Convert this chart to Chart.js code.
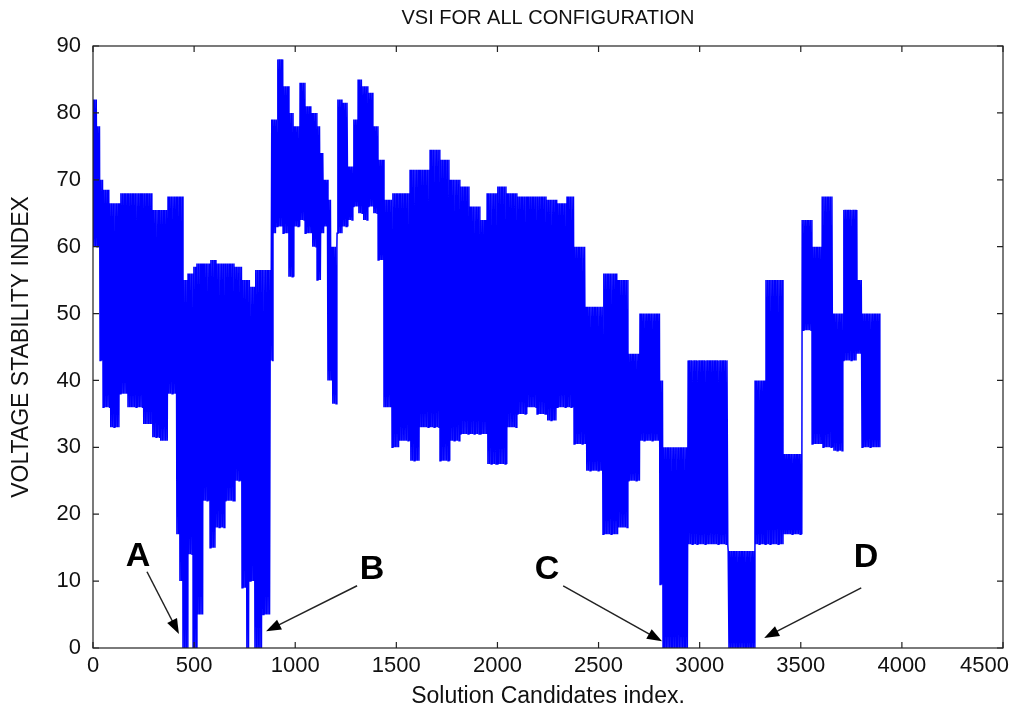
<!DOCTYPE html>
<html>
<head>
<meta charset="utf-8">
<script src="https://cdn.jsdelivr.net/npm/chart.js@4.4.0/dist/chart.umd.min.js"></script>
<style>
  html, body { margin: 0; padding: 0; background: #fff; }
  #wrap { width: 1011px; height: 710px; }
</style>
</head>
<body>
<div id="wrap"><canvas id="vsiChart" width="1011" height="710"></canvas></div>
<script>
// VSI trace: start index, upper and lower envelope
const segStart = [0, 20, 35, 50, 84, 134, 173, 247, 292, 331, 371, 411, 430, 445, 470, 495, 514, 544, 579, 608,
                  653, 702, 737, 757, 777, 801, 841, 880,
                  890, 910, 940, 969, 994, 1024, 1049, 1083, 1108, 1128, 1143, 1162, 1182, 1207, 1232, 1261, 1286,
                  1311, 1335, 1360, 1385, 1410,
                  1439, 1479, 1518, 1568, 1617, 1667, 1716, 1766, 1815, 1865, 1914, 1949, 1998, 2048, 2097, 2147,
                  2196, 2245, 2295, 2344,
                  2379, 2438, 2522, 2597, 2646, 2705, 2804, 2819, 2943, 3141, 3274, 3324, 3413, 3507, 3556, 3606,
                  3660, 3709, 3779, 3803];
const segHigh  = [82, 78, 70, 68.5, 66.5, 68, 68, 68, 65.5, 65.5, 67.5, 67.5, 67.5, 55, 56, 57, 57.5, 57.5, 58, 57.5,
                  57.5, 57, 55, 55, 54, 56.5, 56.5, 79,
                  79, 88, 84, 80, 78, 84.5, 81, 80, 78, 74, 70, 67, 60, 82, 81.5, 72, 79,
                  85, 84, 83, 78, 73,
                  67, 68, 68, 71.5, 71.5, 74.5, 73, 70, 69, 66, 64, 68, 69, 68, 67.5, 67.5,
                  67.5, 67, 66.5, 67.5,
                  60, 51, 56, 55, 44, 50, 40, 30, 43, 14.5, 40, 55, 29, 64, 60, 67.5,
                  50, 65.5, 55, 50];
const segLow   = [60, 60, 43, 36, 33, 38, 36, 33.5, 31.5, 31, 38, 17, 10, 0, 14, 0, 5, 22, 15, 18,
                  22, 25, 9, 0, 10, 0, 5, 43,
                  62, 63, 62, 55.5, 63, 64, 62, 60, 55, 62, 63, 40, 36.5, 62, 63, 64, 66,
                  65, 64, 66, 65, 58,
                  36, 30, 31, 28, 33, 33, 28, 31, 32, 32, 32, 27.5, 27.5, 33, 35, 36,
                  35, 34, 36, 36,
                  30.5, 26.5, 17, 18, 25, 31, 9.5, 0, 15.5, 0, 15.5, 15.5, 17, 47.5, 30.5, 30,
                  29.5, 43, 44, 30];
const lastIndex = 3893;

const xTicks = [0, 500, 1000, 1500, 2000, 2500, 3000, 3500, 4000, 4500];
const yTicks = [0, 10, 20, 30, 40, 50, 60, 70, 80, 90];

// A-D call-outs (data units): label, text spot, arrow tail, arrow tip
const markLabels = ['A', 'B', 'C', 'D'];
const markText = [[223, 13.6], [1380, 11.7], [2245, 11.7], [3823, 13.5]];
const markTail = [[267, 11.4], [1306, 9.3], [2325, 9.3], [3799, 9.0]];
const markHead = [[425, 2.1], [856, 2.5], [2814, 1.0], [3319, 1.5]];

const FONT = "'Liberation Sans', Arial, sans-serif";

// the trace swings between upper and lower value inside each block
const points = [];
let up = true;
segStart.forEach((s, i) => {
    const e = i < segStart.length - 1 ? segStart[i + 1] : lastIndex;
    for (let x = s; x < e; x += 4) {
        points.push({ x: x, y: up ? segHigh[i] : segLow[i] });
        up = !up;
    }
});

const framePlugin = {
    id: 'frame',
    afterDatasetsDraw(chart) {
        const { ctx, chartArea: a, scales: { x, y } } = chart;
        ctx.save();
        ctx.strokeStyle = '#222';
        ctx.lineWidth = 1.2;
        ctx.strokeRect(a.left, a.top, a.right - a.left, a.bottom - a.top);

        // inward ticks on all four sides
        ctx.beginPath();
        xTicks.forEach(v => {
            const px = x.getPixelForValue(v);
            ctx.moveTo(px, a.bottom); ctx.lineTo(px, a.bottom - 6);
            ctx.moveTo(px, a.top); ctx.lineTo(px, a.top + 6);
        });
        yTicks.forEach(v => {
            const py = y.getPixelForValue(v);
            ctx.moveTo(a.left, py); ctx.lineTo(a.left + 6, py);
            ctx.moveTo(a.right, py); ctx.lineTo(a.right - 6, py);
        });
        ctx.stroke();

        // x tick labels, last one kept inside the canvas
        ctx.fillStyle = '#111';
        ctx.font = '22px ' + FONT;
        ctx.textAlign = 'center';
        ctx.textBaseline = 'top';
        xTicks.forEach(v => {
            const txt = String(v);
            const w = ctx.measureText(txt).width;
            const px = Math.min(x.getPixelForValue(v), chart.width - w / 2 - 2);
            ctx.fillText(txt, px, a.bottom + 7);
        });

        // call-outs
        ctx.font = 'bold 34px ' + FONT;
        ctx.textBaseline = 'middle';
        ctx.fillStyle = '#000';
        ctx.strokeStyle = '#222';
        ctx.lineWidth = 1.5;
        markLabels.forEach((lbl, i) => {
            ctx.fillText(lbl, x.getPixelForValue(markText[i][0]), y.getPixelForValue(markText[i][1]));
            const x0 = x.getPixelForValue(markTail[i][0]), y0 = y.getPixelForValue(markTail[i][1]);
            const x1 = x.getPixelForValue(markHead[i][0]), y1 = y.getPixelForValue(markHead[i][1]);
            const ang = Math.atan2(y1 - y0, x1 - x0);
            ctx.beginPath();
            ctx.moveTo(x0, y0);
            ctx.lineTo(x1 - 12 * Math.cos(ang), y1 - 12 * Math.sin(ang));
            ctx.stroke();
            ctx.beginPath();
            ctx.moveTo(x1, y1);
            ctx.lineTo(x1 - 15 * Math.cos(ang) + 5.5 * Math.sin(ang), y1 - 15 * Math.sin(ang) - 5.5 * Math.cos(ang));
            ctx.lineTo(x1 - 15 * Math.cos(ang) - 5.5 * Math.sin(ang), y1 - 15 * Math.sin(ang) + 5.5 * Math.cos(ang));
            ctx.closePath();
            ctx.fill();
        });
        ctx.restore();
    }
};

new Chart(document.getElementById('vsiChart'), {
    type: 'line',
    data: {
        datasets: [{
            data: points,
            borderColor: '#0000ff',
            borderWidth: 1.5,
            pointRadius: 0,
            tension: 0,
            fill: false
        }]
    },
    options: {
        responsive: false,
        animation: false,
        devicePixelRatio: 1,
        layout: { padding: { left: 0, right: 8, top: 0, bottom: 0 } },
        plugins: {
            legend: { display: false },
            tooltip: { enabled: false },
            title: {
                display: true,
                fullSize: false,
                text: 'VSI FOR ALL CONFIGURATION',
                color: '#111',
                font: { family: FONT, size: 20, weight: 'normal' },
                padding: { top: 6, bottom: 16 }
            }
        },
        scales: {
            x: {
                type: 'linear',
                min: 0, max: 4500,
                afterBuildTicks: s => { s.ticks = xTicks.map(v => ({ value: v })); },
                grid: { display: false, drawTicks: false },
                border: { display: false },
                ticks: { display: false },
                title: {
                    display: true,
                    text: 'Solution Candidates index.',
                    color: '#111',
                    font: { family: FONT, size: 23 },
                    padding: { top: 0, bottom: 0 }
                },
                afterFit: s => { s.height = 62; }
            },
            y: {
                min: 0, max: 90,
                afterBuildTicks: s => { s.ticks = yTicks.map(v => ({ value: v })); },
                grid: { display: false, drawTicks: false },
                border: { display: false },
                ticks: { color: '#111', padding: 12, font: { family: FONT, size: 22 } },
                title: {
                    display: true,
                    text: 'VOLTAGE STABILITY INDEX',
                    color: '#111',
                    font: { family: FONT, size: 23 },
                    padding: { top: 8, bottom: 0 }
                },
                afterFit: s => { s.width = 93; }
            }
        }
    },
    plugins: [framePlugin]
});
</script>
</body>
</html>
